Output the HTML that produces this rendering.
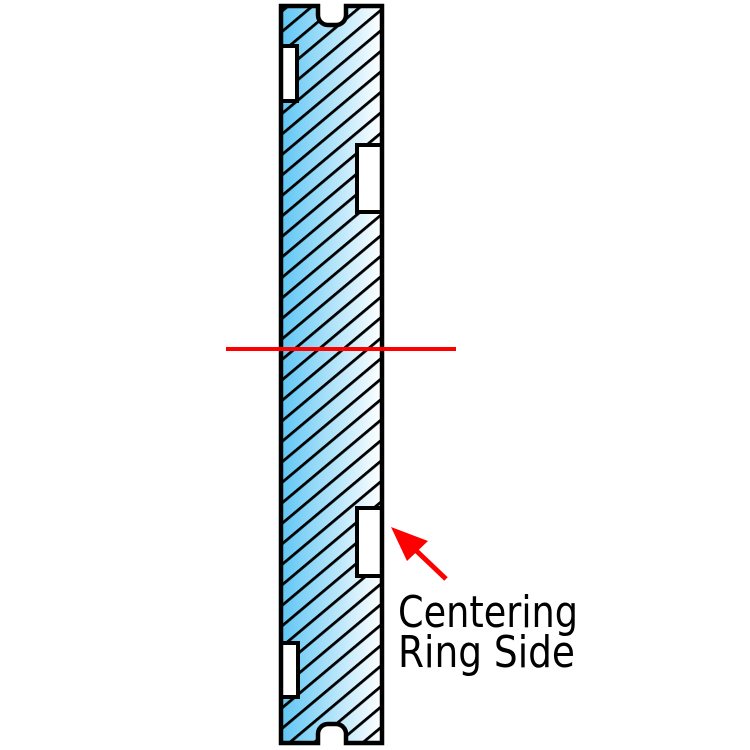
<!DOCTYPE html>
<html><head><style>html,body{margin:0;padding:0;background:#fff;overflow:hidden;width:750px;height:750px}svg{display:block;position:absolute;left:0;top:0}</style></head>
<body>
<svg width="750" height="750" viewBox="0 0 750 750" xmlns="http://www.w3.org/2000/svg">
<defs>
<linearGradient id="g" x1="0" x2="1" y1="0" y2="0">
<stop offset="0" stop-color="#5ec6f4"/>
<stop offset="1" stop-color="#ffffff"/>
</linearGradient>
<clipPath id="c"><path d="M281,6 L318,6 L318,15 A10,10 0 0 0 328,25 L336,25 A10,10 0 0 0 346,15 L346,6 L382,6 L382,743 L346,743 L346,734 A10,10 0 0 0 336,724 L328,724 A10,10 0 0 0 318,734 L318,743 L281,743 Z"/></clipPath>
<pattern id="h" patternUnits="userSpaceOnUse" x="0" y="0" width="20" height="15.7" patternTransform="rotate(-40)">
<rect x="0" y="0" width="20" height="2.8" fill="#000"/>
</pattern>
</defs>
<g clip-path="url(#c)">
<rect x="281" y="6" width="101" height="737" fill="url(#g)"/>
<rect x="281" y="6" width="101" height="737" fill="url(#h)"/>
</g>
<rect x="281" y="46" width="16" height="55" fill="#fff" stroke="#000" stroke-width="4"/>
<rect x="357" y="145" width="25" height="67" fill="#fff" stroke="#000" stroke-width="4"/>
<rect x="357" y="508" width="25" height="68" fill="#fff" stroke="#000" stroke-width="4"/>
<rect x="281" y="643" width="17" height="54" fill="#fff" stroke="#000" stroke-width="4"/>
<path d="M281,6 L318,6 L318,15 A10,10 0 0 0 328,25 L336,25 A10,10 0 0 0 346,15 L346,6 L382,6 L382,743 L346,743 L346,734 A10,10 0 0 0 336,724 L328,724 A10,10 0 0 0 318,734 L318,743 L281,743 Z" fill="none" stroke="#000" stroke-width="4.5"/>
<line x1="226" y1="349" x2="456" y2="349" stroke="#f00" stroke-width="4"/>
<line x1="446" y1="579" x2="405" y2="540" stroke="#f00" stroke-width="5"/>
<polygon points="391,527 428,541 407,561" fill="#f00"/>
<text x="398" y="627" font-family="'DejaVu Sans', sans-serif" font-size="44" textLength="180" lengthAdjust="spacingAndGlyphs">Centering</text>
<text x="398" y="667" font-family="'DejaVu Sans', sans-serif" font-size="44" textLength="177" lengthAdjust="spacingAndGlyphs">Ring Side</text>
</svg>
</body></html>
